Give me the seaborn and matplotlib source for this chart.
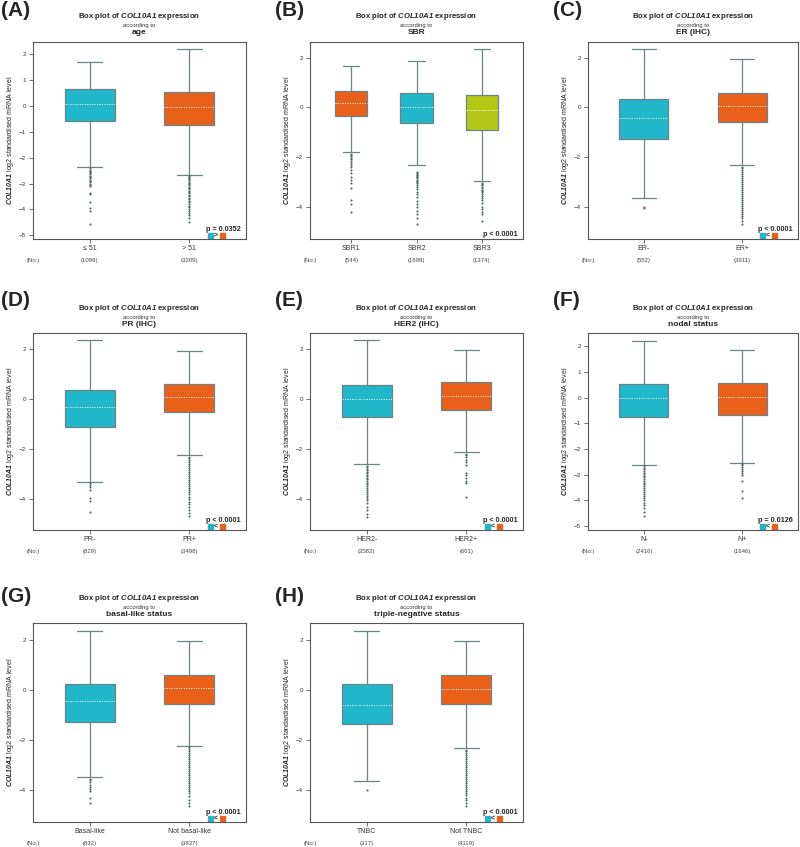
import matplotlib
matplotlib.use("Agg")
import matplotlib.pyplot as plt
from matplotlib.patches import Rectangle
import pandas as pd
import seaborn as sns

TEAL = "#21B6C9"
ORANGE = "#E8601A"
LIME = "#B3C816"

# (A) age
age_groups = ["≤ 51", "> 51"]
age_counts = [1099, 3209]
age_box = [[-2.36, -0.57, 0.06, 0.64, 1.70], [-2.66, -0.75, -0.03, 0.53, 2.19]]
age_out = [[-2.42, -2.46, -2.5, -2.55, -2.6, -2.65, -2.7, -2.75, -2.8, -2.85, -2.9, -2.95,
            -3.0, -3.05, -3.1, -3.35, -3.4, -3.7, -3.95, -4.05, -4.55],
           [-2.70, -2.74, -2.79, -2.83, -2.88, -2.93, -2.97, -3.02, -3.07, -3.12, -3.17, -3.22,
            -3.27, -3.32, -3.38, -3.43, -3.48, -3.54, -3.6, -3.66, -3.72, -3.78, -3.85, -3.92,
            -3.98, -4.05, -4.12, -4.2, -4.34, -4.5]]

# (B) SBR
sbr_groups = ["SBR1", "SBR2", "SBR3"]
sbr_counts = [544, 1699, 1374]
sbr_box = [[-1.81, -0.36, 0.16, 0.68, 1.68], [-2.32, -0.62, 0.01, 0.56, 1.88],
           [-2.97, -0.90, -0.09, 0.48, 2.35]]
sbr_out = [[-1.87, -1.92, -1.97, -2.02, -2.08, -2.15, -2.22, -2.3, -2.38, -2.5, -2.62, -2.78,
            -2.9, -3.05, -3.25, -3.72, -3.89, -4.19],
           [-2.58, -2.62, -2.66, -2.7, -2.75, -2.8, -2.85, -2.9, -2.95, -3.0, -3.05, -3.1, -3.18,
            -3.28, -3.4, -3.5, -3.62, -3.75, -3.88, -4.0, -4.15, -4.3, -4.45, -4.68],
           [-3.02, -3.07, -3.12, -3.18, -3.24, -3.3, -3.36, -3.42, -3.5, -3.58, -3.65, -3.72,
            -3.85, -4.0, -4.1, -4.2, -4.3, -4.55]]

# (C) ER (IHC)
er_groups = ["ER-", "ER+"]
er_counts = [552, 3911]
er_box = [[-3.65, -1.28, -0.42, 0.35, 2.35], [-2.32, -0.58, 0.04, 0.58, 1.95]]
er_out = [[-3.99, -4.05],
          [-2.38, -2.45, -2.52, -2.6, -2.68, -2.76, -2.84, -2.92, -3.0, -3.08, -3.16, -3.24,
           -3.32, -3.4, -3.48, -3.56, -3.64, -3.72, -3.8, -3.88, -3.96, -4.04, -4.12, -4.2,
           -4.28, -4.36, -4.45, -4.55, -4.68]]

# (D) PR (IHC)
pr_groups = ["PR-", "PR+"]
pr_counts = [829, 3498]
pr_box = [[-3.33, -1.11, -0.32, 0.37, 2.36], [-2.25, -0.52, 0.07, 0.59, 1.91]]
pr_out = [[-3.37, -3.45, -3.52, -3.64, -3.96, -4.06, -4.52],
          [-2.3, -2.37, -2.44, -2.51, -2.58, -2.66, -2.74, -2.82, -2.9, -2.98, -3.06, -3.14,
           -3.22, -3.3, -3.38, -3.46, -3.54, -3.62, -3.7, -3.8, -3.9, -4.0, -4.1, -4.2, -4.32,
           -4.44, -4.56, -4.68]]

# (E) HER2 (IHC)
her2_groups = ["HER2-", "HER2+"]
her2_counts = [3582, 661]
her2_box = [[-2.61, -0.72, 0.0, 0.55, 2.36], [-2.12, -0.44, 0.13, 0.68, 1.95]]
her2_out = [[-2.66, -2.72, -2.78, -2.84, -2.9, -2.96, -3.02, -3.08, -3.14, -3.2, -3.27, -3.34,
             -3.41, -3.48, -3.55, -3.62, -3.7, -3.78, -3.86, -3.95, -4.05, -4.17, -4.3, -4.45,
             -4.58, -4.7],
            [-2.19, -2.25, -2.32, -2.42, -2.52, -2.63, -2.95, -3.05, -3.15, -3.27, -3.37, -3.9]]

# (F) nodal status
nodal_groups = ["N-", "N+"]
nodal_counts = [2416, 1646]
nodal_box = [[-2.62, -0.75, 0.0, 0.53, 2.19], [-2.54, -0.68, 0.03, 0.57, 1.86]]
nodal_out = [[-2.68, -2.74, -2.8, -2.86, -2.92, -2.98, -3.04, -3.1, -3.17, -3.24, -3.31, -3.38,
              -3.45, -3.52, -3.6, -3.68, -3.76, -3.84, -3.92, -4.0, -4.1, -4.2, -4.32, -4.45,
              -4.6],
             [-2.59, -2.64, -2.7, -2.77, -2.85, -2.92, -3.0, -3.26, -3.65, -3.91]]

# (G) basal-like status
basal_groups = ["Basal-like", "Not basal-like"]
basal_counts = [832, 3837]
basal_box = [[-3.49, -1.28, -0.43, 0.24, 2.36], [-2.24, -0.55, 0.08, 0.60, 1.95]]
basal_out = [[-3.57, -3.62, -3.7, -3.8, -3.9, -3.98, -4.06, -4.32, -4.54],
             [-2.3, -2.37, -2.44, -2.52, -2.6, -2.68, -2.76, -2.84, -2.92, -3.0, -3.08, -3.16,
              -3.24, -3.32, -3.4, -3.48, -3.56, -3.64, -3.72, -3.8, -3.88, -3.96, -4.05, -4.15,
              -4.25, -4.4, -4.52, -4.66]]

# (H) triple-negative status
tnbc_groups = ["TNBC", "Not TNBC"]
tnbc_counts = [317, 4119]
tnbc_box = [[-3.65, -1.38, -0.60, 0.21, 2.36], [-2.33, -0.59, 0.04, 0.59, 1.95]]
tnbc_out = [[-4.01],
            [-2.4, -2.47, -2.54, -2.61, -2.68, -2.76, -2.84, -2.92, -3.0, -3.08, -3.16, -3.24,
             -3.32, -3.4, -3.48, -3.56, -3.64, -3.72, -3.8, -3.88, -3.96, -4.05, -4.14, -4.23,
             -4.33, -4.43, -4.55, -4.67]]

W, H = 800, 847
LINE = "#6B8486"
DOT = "#4B666C"

sns.set_style("white")
plt.rcParams["font.family"] = ["Liberation Sans", "DejaVu Sans"]
plt.rcParams["mathtext.fontset"] = "custom"
plt.rcParams["mathtext.rm"] = "Liberation Sans"
plt.rcParams["mathtext.it"] = "Liberation Sans:italic"
plt.rcParams["mathtext.bf"] = "Liberation Sans:bold"
plt.rcParams["mathtext.bfit"] = "Liberation Sans:italic:bold"

fig = plt.figure(figsize=(W / 100, H / 100), dpi=100)


def panel(letter, rect, subject, groups, counts, box, out, colors, ylim, yticks, ptext, sign):
    l, t, r, b = rect
    w, h = r - l, b - t
    ax = fig.add_axes([l / W, 1 - b / H, w / W, h / H])
    box_df = pd.DataFrame({"group": [g for g, s in zip(groups, box) for _ in s],
                           "value": [v for s in box for v in s]})
    out_df = pd.DataFrame({"group": [g for g, s in zip(groups, out) for _ in s],
                           "value": [v for s in out for v in s]})
    sns.boxplot(data=box_df, x="group", y="value", hue="group", order=groups, hue_order=groups,
                palette=colors, saturation=1, width=0.5, whis=(0, 100), showfliers=False,
                legend=False, linecolor=LINE, linewidth=0.9,
                medianprops=dict(color="white", linestyle=(0, (1, 1.5)), linewidth=0.7), ax=ax)
    sns.stripplot(data=out_df, x="group", y="value", order=groups, jitter=False, size=1.5,
                  color=DOT, ax=ax)
    pad = 0.57 if len(groups) == 2 else 0.63
    ax.set_xlim(-pad, len(groups) - 1 + pad)
    ax.set_ylim(*ylim)
    ax.set_yticks(yticks)
    ax.set_xticks(range(len(groups)))
    ax.set_xticklabels(groups)
    ax.set_xlabel("")
    ax.set_ylabel(r"$\mathbfit{COL10A1}$ log2 standardised mRNA level", fontsize=5, color="#222")
    ax.yaxis.set_label_coords(-17 / w, 0.5)
    ax.tick_params(axis="y", length=3, width=0.6, pad=2, labelsize=4.5, colors="#555",
                   labelcolor="#333", left=True)
    ax.tick_params(axis="x", length=3, width=0.6, pad=1.5, labelsize=5, colors="#555",
                   labelcolor="#333", bottom=True)
    for sp in ax.spines.values():
        sp.set_visible(True)
        sp.set_color("#555555")
        sp.set_linewidth(0.8)

    # titles
    ax.text(0.5, 1 + 25 / h, r"Box plot of $\mathbfit{COL10A1}$ expression", transform=ax.transAxes,
            ha="center", va="center", fontsize=5.6, fontweight="bold")
    ax.text(0.5, 1 + 16 / h, "according to", transform=ax.transAxes,
            ha="center", va="center", fontsize=4.2, color="#333")
    ax.text(0.5, 1 + 9 / h, subject, transform=ax.transAxes,
            ha="center", va="center", fontsize=6, fontweight="bold")
    ly = t - 32 if t < 600 else t - 27
    fig.text(max(l - 35, 1) / W, 1 - ly / H, f"({letter})", ha="left", va="center",
             fontsize=15, fontweight="bold")

    # counts row
    ax.annotate("(No:)", xy=(0, 0), xycoords="axes fraction", xytext=(0, -21 * 0.72),
                textcoords="offset points", ha="center", va="center", fontsize=4.3, color="#444")
    for i, c in enumerate(counts):
        ax.annotate(f"({c})", xy=(i, 0), xycoords=("data", "axes fraction"),
                    xytext=(0, -21 * 0.72), textcoords="offset points",
                    ha="center", va="center", fontsize=4.3, color="#444")

    # p value and direction
    py = 10 / h if sign else 5 / h
    ax.text(1 - 5 / w, py, ptext, transform=ax.transAxes, ha="right", va="center",
            fontsize=5.2, fontweight="bold")
    if sign:
        s = 5
        ax.add_patch(Rectangle((1 - 38 / w, 1 / h), s / w, s / h, transform=ax.transAxes,
                               color=TEAL, clip_on=False))
        ax.text(1 - 30 / w, 3.5 / h, sign, transform=ax.transAxes, ha="center", va="center",
                fontsize=5, fontweight="bold")
        ax.add_patch(Rectangle((1 - 26 / w, 1 / h), s / w, s / h, transform=ax.transAxes,
                               color=ORANGE, clip_on=False))
    return ax


panel("A", (33, 42, 246, 239), "age", age_groups, age_counts, age_box, age_out,
      [TEAL, ORANGE], (-5.14, 2.46), [-5, -4, -3, -2, -1, 0, 1, 2], "p = 0.0352", ">")
panel("B", (310, 42, 523, 239), "SBR", sbr_groups, sbr_counts, sbr_box, sbr_out,
      [ORANGE, TEAL, LIME], (-5.29, 2.63), [-4, -2, 0, 2], "p < 0.0001", None)
panel("C", (588, 42, 798, 239), "ER (IHC)", er_groups, er_counts, er_box, er_out,
      [TEAL, ORANGE], (-5.29, 2.63), [-4, -2, 0, 2], "p < 0.0001", "<")
panel("D", (33, 333, 246, 530), "PR (IHC)", pr_groups, pr_counts, pr_box, pr_out,
      [TEAL, ORANGE], (-5.24, 2.65), [-4, -2, 0, 2], "p < 0.0001", "<")
panel("E", (310, 333, 523, 530), "HER2 (IHC)", her2_groups, her2_counts, her2_box, her2_out,
      [TEAL, ORANGE], (-5.24, 2.65), [-4, -2, 0, 2], "p < 0.0001", "<")
panel("F", (588, 333, 798, 530), "nodal status", nodal_groups, nodal_counts, nodal_box, nodal_out,
      [TEAL, ORANGE], (-5.16, 2.52), [-5, -4, -3, -2, -1, 0, 1, 2], "p = 0.0126", "<")
panel("G", (33, 623, 246, 822), "basal-like status", basal_groups, basal_counts, basal_box,
      basal_out, [TEAL, ORANGE], (-5.3, 2.68), [-4, -2, 0, 2], "p < 0.0001", "<")
panel("H", (310, 623, 523, 822), "triple-negative status", tnbc_groups, tnbc_counts, tnbc_box,
      tnbc_out, [TEAL, ORANGE], (-5.3, 2.66), [-4, -2, 0, 2], "p < 0.0001", "<")

fig.savefig("out.png", dpi=100)
